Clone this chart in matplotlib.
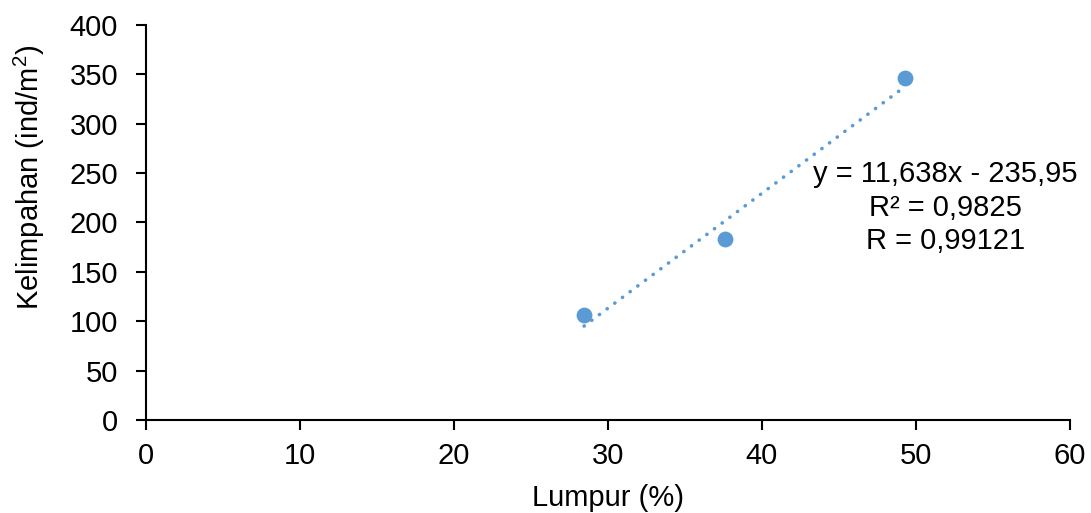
import numpy as np
import matplotlib
matplotlib.use("Agg")
import matplotlib.pyplot as plt

plt.rcParams['font.family'] = ['Liberation Sans', 'DejaVu Sans']
plt.rcParams['mathtext.fontset'] = 'custom'
plt.rcParams['mathtext.rm'] = 'Liberation Sans'
plt.rcParams['mathtext.it'] = 'Liberation Sans'

# data
lumpur = [28.45, 37.6, 49.3]
kelimpahan = [106, 183, 346]

# trendline shown on chart
slope = 11.638
intercept = -235.95
eq_lines = ["y = 11,638x - 235,95", "R² = 0,9825", "R = 0,99121"]

x_ticks = [0, 10, 20, 30, 40, 50, 60]
y_ticks = [0, 50, 100, 150, 200, 250, 300, 350, 400]

color = '#5B9BD5'
fs = 21

fig = plt.figure(figsize=(10.91, 5.13), dpi=100)
ax = fig.add_axes([0.1338, 0.1813, 0.8469, 0.77])

ax.scatter(lumpur, kelimpahan, s=130, color=color, zorder=3, linewidths=0)

xt = np.array([min(lumpur), max(lumpur)])
ax.plot(xt, slope * xt + intercept, color=color, lw=2.6,
        linestyle=(0, (0.05, 2.6)), dash_capstyle='round', zorder=2)

ax.text(51.9, 215, "\n".join(eq_lines), ha='center', va='center',
        fontsize=fs, linespacing=1.25)

ax.set_xlim(0, 60)
ax.set_ylim(0, 400)
ax.set_xticks(x_ticks)
ax.set_yticks(y_ticks)
ax.tick_params(axis='both', labelsize=fs, direction='out', length=7, width=1.5,
               color='black')
ax.tick_params(axis='y', pad=13)
ax.tick_params(axis='x', pad=9)
for s in ['top', 'right']:
    ax.spines[s].set_visible(False)
for s in ['left', 'bottom']:
    ax.spines[s].set_linewidth(1.5)

ax.set_xlabel('Lumpur (%)', fontsize=fs, labelpad=10)
ax.set_ylabel('Kelimpahan (ind/m$^2$)', fontsize=fs)
ax.yaxis.set_label_coords(-0.1067, 0.613)

fig.savefig('out.png', dpi=100)
